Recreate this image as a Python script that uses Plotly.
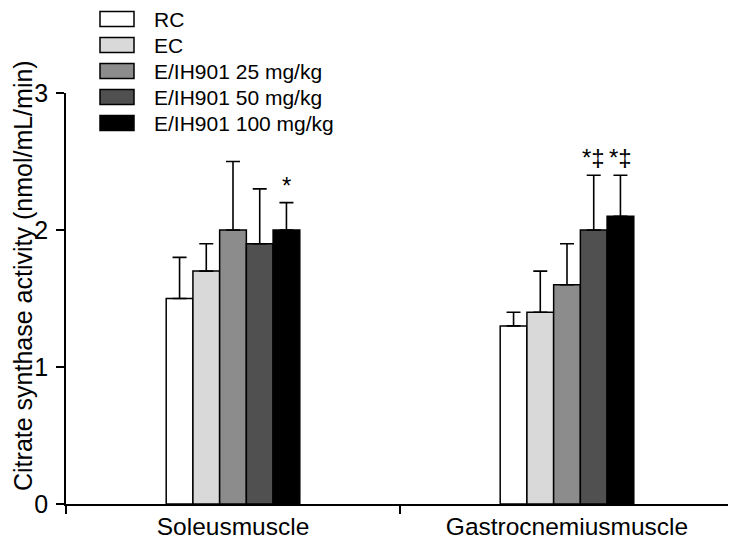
import plotly.graph_objects as go

categories = ["Soleusmuscle", "Gastrocnemiusmuscle"]
series_names = ["RC", "EC", "E/IH901 25 mg/kg", "E/IH901 50 mg/kg", "E/IH901 100 mg/kg"]
means = [
    [1.5, 1.3],
    [1.7, 1.4],
    [2.0, 1.6],
    [1.9, 2.0],
    [2.0, 2.1],
]
errors = [
    [0.3, 0.1],
    [0.2, 0.3],
    [0.5, 0.3],
    [0.4, 0.4],
    [0.2, 0.3],
]
colors = ["#ffffff", "#d9d9d9", "#8c8c8c", "#505050", "#000000"]
# significance marks: (series index, category index, text)
marks = [(4, 0, "*"), (3, 1, "*‡"), (4, 1, "*‡")]
yticks = [0, 1, 2, 3]
y_title = "Citrate synthase activity (nmol/mL/min)"

# the page body adds an 8px offset; size the figure so it fills the window
OFF = 8
W, H = 736 - OFF, 541 - OFF
L, R, T, B = 66 - OFF, 2, 93 - OFF, 37
pw, ph = W - L - R, H - T - B
FONT = "Liberation Sans, Arial, sans-serif"


def px_x(p):  # p in window pixels
    return (p - OFF - L) / pw


def px_y(p):
    return (H - B - (p - OFF)) / ph


fig = go.Figure()
for name, m, e, c in zip(series_names, means, errors, colors):
    fig.add_trace(go.Bar(
        name=name, x=categories, y=m,
        marker=dict(color=c, line=dict(color="black", width=1.5)),
        error_y=dict(type="data", array=e, arrayminus=[0] * len(e), symmetric=False,
                     color="black", thickness=1.6, width=7),
        showlegend=False,
    ))

ngroups = len(series_names)
bargap = 0.6
bar_px = pw / len(categories) * (1 - bargap) / ngroups
for si, ci, txt in marks:
    fig.add_annotation(x=categories[ci], y=means[si][ci] + errors[si][ci], xref="x", yref="y",
                       text=txt, showarrow=False, yanchor="bottom", yshift=2,
                       xshift=(si - (ngroups - 1) / 2) * bar_px,
                       font=dict(family=FONT, size=24, color="black"))

# custom legend (wide swatches like the original)
for i, (name, c) in enumerate(zip(series_names, colors)):
    cy = 19 + i * 26.0
    fig.add_shape(type="rect", xref="paper", yref="paper",
                  x0=px_x(100), x1=px_x(134), y0=px_y(cy - 7.5), y1=px_y(cy + 7.5),
                  fillcolor=c, line=dict(color="black", width=1.5))
    fig.add_annotation(xref="paper", yref="paper", x=px_x(152), y=px_y(cy + 0.5),
                       text=name, showarrow=False, xanchor="left", yanchor="middle",
                       font=dict(family=FONT, size=21, color="black"))

# y-axis title
fig.add_annotation(xref="paper", yref="paper", x=px_x(23), y=px_y(276), text=y_title,
                   textangle=-90, showarrow=False, xanchor="center", yanchor="middle",
                   font=dict(family=FONT, size=25, color="black"))

fig.update_layout(
    width=W, height=H, barmode="group", bargap=bargap, bargroupgap=0,
    margin=dict(l=L, r=R, t=T, b=B, autoexpand=False),
    plot_bgcolor="white", paper_bgcolor="white",
    font=dict(family=FONT, size=24, color="black"),
)
fig.update_xaxes(showline=True, linecolor="black", linewidth=1.5, ticks="outside",
                 tickson="boundaries", ticklen=8, tickwidth=1.5, tickcolor="black",
                 showgrid=False, tickfont=dict(size=24.5), automargin=False)
fig.update_yaxes(range=[0, 3], tickvals=yticks, showline=True, linecolor="black", linewidth=1.5,
                 ticks="outside", ticklen=8, tickwidth=1.5, tickcolor="black", showgrid=False,
                 zeroline=False, tickfont=dict(size=25), ticklabelstandoff=3, automargin=False)

fig.write_html("out.html")
